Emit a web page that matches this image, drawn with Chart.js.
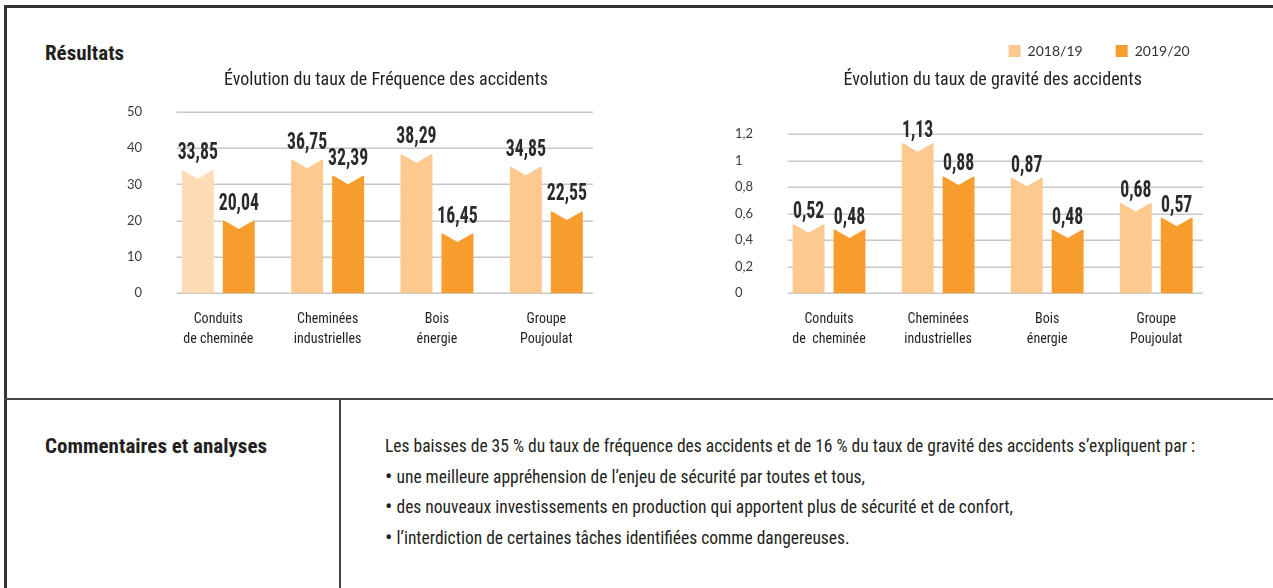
<!DOCTYPE html>
<html lang="fr">
<head>
<meta charset="utf-8">
<title>Résultats</title>
<script src="https://cdn.jsdelivr.net/npm/chart.js@4.4.1/dist/chart.umd.min.js"></script>
<style>
  html, body { margin: 0; padding: 0; background: #fff; }
  #page {
    position: relative; width: 1273px; height: 588px; overflow: hidden;
    font-family: "Roboto Condensed", "DejaVu Sans Condensed", sans-serif;
    color: #231f20;
  }
  .frame-left { position: absolute; left: 4px; top: 5px; width: 3px; height: 600px; background: #333; }
  .frame-top  { position: absolute; left: 4px; top: 5px; width: 1280px; height: 3px; background: #333; }
  .rule-h { position: absolute; left: 4px; top: 398px; width: 1280px; height: 2px; background: #444; }
  .rule-v { position: absolute; left: 339px; top: 399px; width: 1.5px; height: 200px; background: #444; }
  .heading { position: absolute; left: 45px; font-weight: bold; font-size: 21px; line-height: 21px; white-space: nowrap; }
  #notes { position: absolute; left: 385px; top: 431px; font-size: 17.5px; line-height: 30.7px; white-space: nowrap; }
  #notes .dot { font-size: 22px; line-height: 0; vertical-align: -1px; }
  canvas { position: absolute; }
</style>
</head>
<body>
<div id="page">
  <div class="frame-left"></div>
  <div class="frame-top"></div>
  <div class="rule-h"></div>
  <div class="rule-v"></div>
  <div class="heading" style="top:43px">Résultats</div>
  <div class="heading" style="top:436px">Commentaires et analyses</div>
  <div id="notes">
    Les baisses de 35 % du taux de fréquence des accidents et de 16 % du taux de gravité des accidents s’expliquent par :<br>
    <span class="dot">•</span> une meilleure appréhension de l’enjeu de sécurité par toutes et tous,<br>
    <span class="dot">•</span> des nouveaux investissements en production qui apportent plus de sécurité et de confort,<br>
    <span class="dot">•</span> l’interdiction de certaines tâches identifiées comme dangereuses.
  </div>
  <canvas id="freqChart" width="557" height="320" style="left:100px;top:40px;width:557px;height:320px"></canvas>
  <canvas id="gravChart" width="573" height="349" style="left:700px;top:11px;width:573px;height:349px"></canvas>
</div>

<script>
// ---- data ----
const categories = [
  ['Conduits', 'de cheminée'],
  ['Cheminées', 'industrielles'],
  ['Bois', 'énergie'],
  ['Groupe', 'Poujoulat']
];
const gravCategories = [
  ['Conduits', 'de  cheminée'],
  ['Cheminées', 'industrielles'],
  ['Bois', 'énergie'],
  ['Groupe', 'Poujoulat']
];
const seriesNames = ['2018/19', '2019/20'];

const freq2018 = [33.85, 36.75, 38.29, 34.85];
const freq2019 = [20.04, 32.39, 16.45, 22.55];
const grav2018 = [0.52, 1.13, 0.87, 0.68];
const grav2019 = [0.48, 0.88, 0.48, 0.57];

const freqTickLabels = ['0', '10', '20', '30', '40', '50'];
const gravTickLabels = ['0', '0,2', '0,4', '0,6', '0,8', '1', '1,2'];

const freqTitle = 'Évolution du taux de Fréquence des accidents';
const gravTitle = 'Évolution du taux de gravité des accidents';

// ---- styling ----
const NARROW = '"Roboto Condensed", "DejaVu Sans Condensed", sans-serif';
const TEXT = '#231f20';
const LIGHT = '#FDC98F';
const LIGHTEST = '#FEDDB6';
const DARK = '#F69D2E';
const GRID = '#c8c8c8';

const fmt = v => v.toFixed(2).replace('.', ',');

// horizontal guide lines, inset a little from the plot edges
const guideLines = {
  id: 'guideLines',
  beforeDatasetsDraw(chart, args, opts) {
    const { ctx, chartArea } = chart;
    const y = chart.scales.y;
    ctx.save();
    ctx.strokeStyle = opts.color;
    ctx.lineWidth = 1.5;
    y.ticks.forEach(t => {
      const py = Math.round(y.getPixelForValue(t.value)) + 0.25;
      ctx.beginPath();
      ctx.moveTo(chartArea.left + opts.insetLeft, py);
      ctx.lineTo(chartArea.right - opts.insetRight, py);
      ctx.stroke();
    });
    ctx.restore();
  }
};

// V-shaped notch cut into the top of every bar, then the value above it
const notchedBars = {
  id: 'notchedBars',
  afterDatasetsDraw(chart, args, opts) {
    const { ctx } = chart;
    ctx.save();
    chart.data.datasets.forEach((ds, di) => {
      const meta = chart.getDatasetMeta(di);
      meta.data.forEach(bar => {
        const half = bar.width / 2;
        ctx.fillStyle = '#ffffff';
        ctx.beginPath();
        ctx.moveTo(bar.x - half - 0.5, bar.y - 1);
        ctx.lineTo(bar.x, bar.y + opts.depth);
        ctx.lineTo(bar.x + half + 0.5, bar.y - 1);
        ctx.closePath();
        ctx.fill();
      });
    });
    chart.data.datasets.forEach((ds, di) => {
      const meta = chart.getDatasetMeta(di);
      meta.data.forEach((bar, i) => {
        ctx.save();
        ctx.translate(bar.x, bar.y - opts.gap);
        ctx.scale(0.74, 1);
        ctx.fillStyle = '#2a2a2a';
        ctx.font = 'bold 24px ' + NARROW;
        ctx.textAlign = 'center';
        ctx.textBaseline = 'alphabetic';
        ctx.fillText(fmt(ds.data[i]), 0, 0);
        ctx.restore();
      });
    });
    ctx.restore();
  }
};

function buildChart(canvasId, cfg) {
  return new Chart(document.getElementById(canvasId), {
    type: 'bar',
    data: {
      labels: cfg.labels,
      datasets: [
        { label: seriesNames[0], data: cfg.a, backgroundColor: cfg.colorsA, borderWidth: 0,
          barPercentage: 0.78, categoryPercentage: 0.75 },
        { label: seriesNames[1], data: cfg.b, backgroundColor: DARK, borderWidth: 0,
          barPercentage: 0.78, categoryPercentage: 0.75 }
      ]
    },
    options: {
      responsive: false,
      animation: false,
      devicePixelRatio: 1,
      events: [],
      layout: { padding: cfg.padding },
      scales: {
        x: {
          offset: true,
          grid: { display: false, drawTicks: false },
          border: { display: false },
          ticks: {
            autoSkip: false, maxRotation: 0, padding: 16, color: TEXT,
            font: { family: NARROW, size: 14, lineHeight: 1.43 }
          },
          afterFit: s => { s.height = 66.7; }
        },
        y: {
          min: 0, max: cfg.max,
          grid: { display: false, drawTicks: false },
          border: { display: false },
          ticks: {
            stepSize: cfg.step, padding: cfg.tickPad, crossAlign: cfg.cross,
            color: '#3c3c3c', font: { family: 'Lato', size: 13 },
            callback: (v, i) => cfg.tickLabels[i]
          },
          afterFit: s => { s.width = cfg.yWidth; }
        },
        yR: {
          position: 'right',
          grid: { display: false, drawTicks: false },
          border: { display: false },
          ticks: { display: false },
          afterFit: s => { s.width = cfg.rightWidth; }
        }
      },
      plugins: {
        tooltip: { enabled: false },
        title: {
          display: true, text: cfg.title, color: TEXT, fullSize: cfg.titleFull,
          font: { family: NARROW, size: 18, weight: 'normal', lineHeight: 1.2 },
          padding: cfg.titlePad
        },
        legend: cfg.legend,
        guideLines: { color: GRID, insetLeft: 13, insetRight: 8 },
        notchedBars: { depth: 8.5, gap: cfg.gap }
      }
    },
    plugins: [guideLines, notchedBars]
  });
}

buildChart('freqChart', {
  labels: categories,
  a: freq2018, b: freq2019,
  colorsA: [LIGHTEST, LIGHT, LIGHT, LIGHT],
  max: 50, step: 10, tickLabels: freqTickLabels,
  tickPad: 21.6, cross: 'near', yWidth: 48.6, rightWidth: 56,
  padding: { left: 15, right: 0, top: 0, bottom: 0 },
  title: freqTitle, titleFull: true, titlePad: { top: 29.5, bottom: 20.6 },
  legend: { display: false },
  gap: 11
});

buildChart('gravChart', {
  labels: gravCategories,
  a: grav2018, b: grav2019,
  colorsA: LIGHT,
  max: 1.2, step: 0.2, tickLabels: gravTickLabels,
  tickPad: 0, cross: 'far', yWidth: 39.5, rightWidth: 11.9,
  padding: { left: 35, right: 50.3, top: 0, bottom: 0 },
  title: gravTitle, titleFull: false, titlePad: { top: 1.5, bottom: 42.9 },
  legend: {
    display: true, position: 'top', align: 'end', weight: 3000, fullSize: true,
    labels: { boxWidth: 12, boxHeight: 12, padding: 33, color: '#333', font: { family: 'Lato', size: 14 } }
  },
  gap: 6
});
</script>
</body>
</html>
